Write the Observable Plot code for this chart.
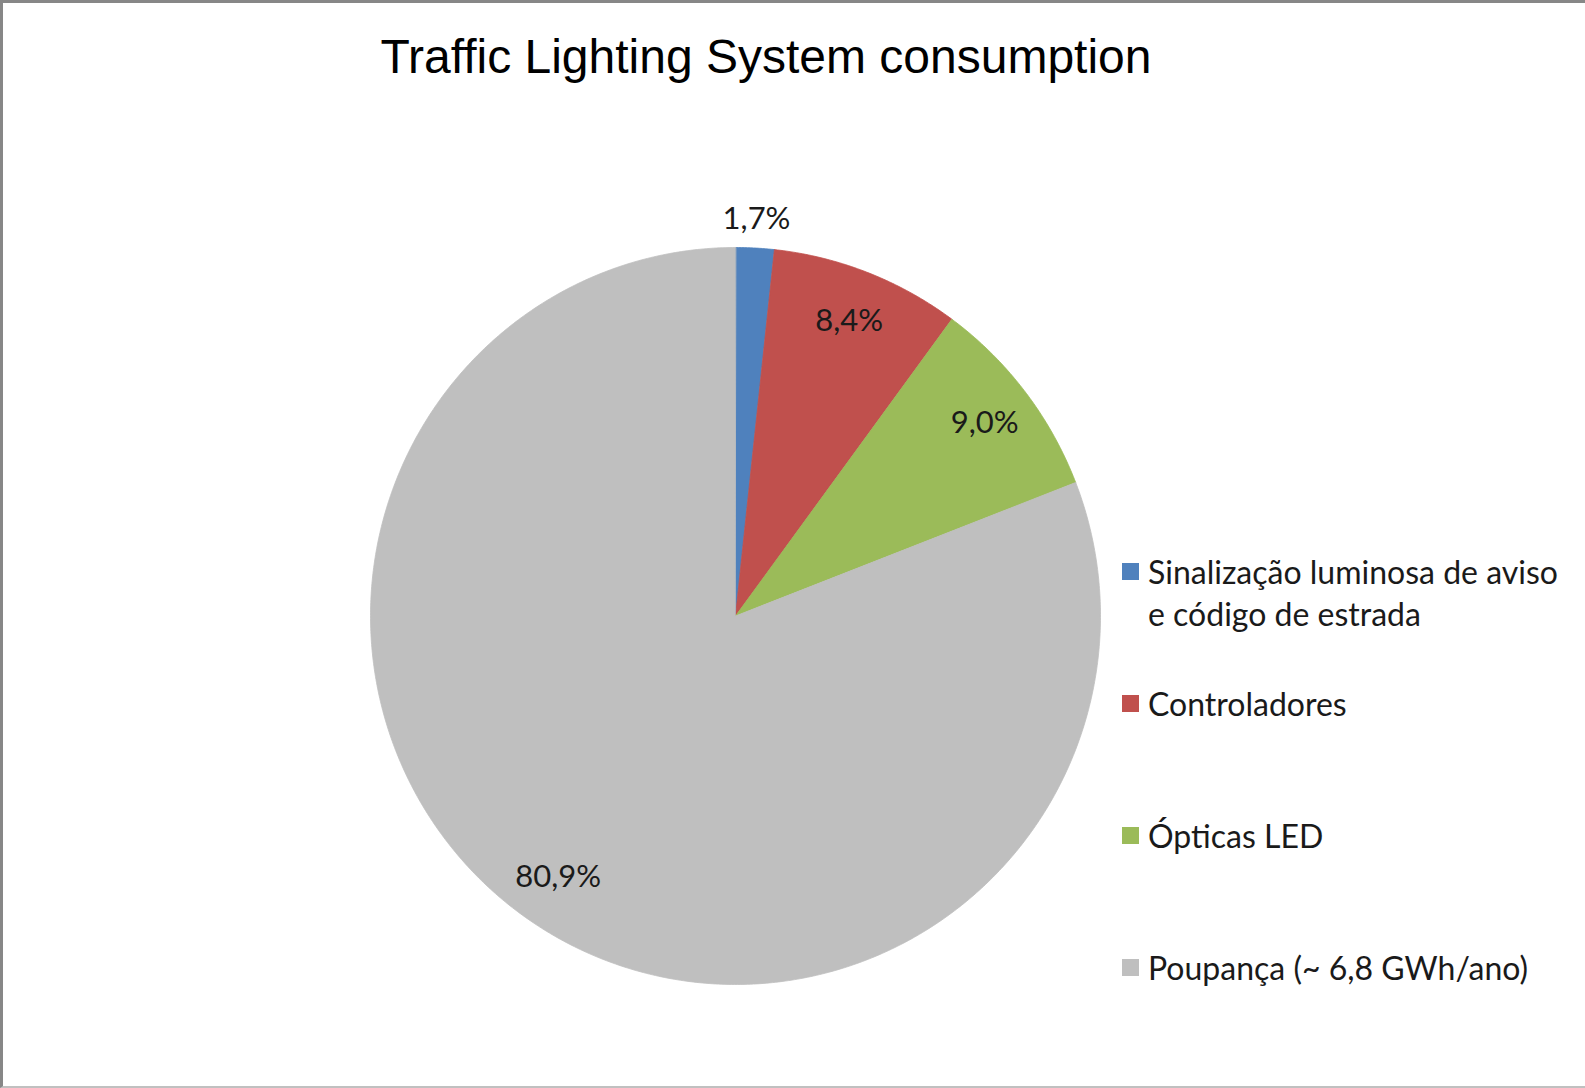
<!DOCTYPE html>
<html><head><meta charset="utf-8">
<script src="https://cdn.jsdelivr.net/npm/d3@7"></script>
<script src="https://cdn.jsdelivr.net/npm/@observablehq/plot@0.6"></script>
<style>
html,body{margin:0;padding:0;background:#fff;overflow:hidden}
#wrap{position:relative;width:1585px;height:1088px;background:#fff}
#frame{position:absolute;left:0;top:0;width:1585px;height:1088px;box-sizing:border-box;border-top:3px solid #878787;border-left:3px solid #878787;border-bottom:2px solid #c0c0c0;pointer-events:none}
#title{position:absolute;left:0;width:1532px;top:33px;text-align:center;font-family:"Liberation Sans",Arial,sans-serif;font-size:48px;line-height:47px;color:#000;white-space:nowrap}
#chart{position:absolute;left:0;top:0}
#legend{position:absolute;left:1122px;top:551px}
.lg-swatches{font-family:Lato,sans-serif;font-size:32px;color:#1a1a1a;margin:0}
.lg-swatch{height:132px;align-items:flex-start!important;display:flex;line-height:42px;padding:0!important}
.lg-swatch > svg{margin-right:9px!important;margin-top:12px}
.lg-swatch-label{white-space:normal!important;width:430px;overflow:visible!important}
</style>
</head><body>
<div id="wrap">
  <div id="chart"></div>
  <div id="title"></div>
  <div id="legend"></div>
  <div id="frame"></div>
</div>
<script>
const titleText = "Traffic Lighting System consumption";
const categories = [
  "Sinalização luminosa de aviso e código de estrada",
  "Controladores",
  "Ópticas LED",
  "Poupança (~ 6,8 GWh/ano)"
];
const shares = [1.7, 8.4, 9.0, 80.9];
const colors = ["#4F81BD", "#C0504D", "#9BBB59", "#BFBFBF"];

document.getElementById("title").textContent = titleText;

// Build slice polygons from the shares (clockwise from 12 o'clock)
const total = d3.sum(shares);
const slices = [];
const labels = [];
let acc = 0;
categories.forEach((cat, i) => {
  const a0 = acc / total * 2 * Math.PI;
  acc += shares[i];
  const a1 = acc / total * 2 * Math.PI;
  const n = Math.max(2, Math.ceil((a1 - a0) / (Math.PI / 360)));
  slices.push({cat, x: 0, y: 0});
  for (let k = 0; k <= n; k++) {
    const a = a0 + (a1 - a0) * k / n;
    slices.push({cat, x: Math.sin(a), y: Math.cos(a)});
  }
  const am = (a0 + a1) / 2;
  const r = shares[i] < 5 ? 1.08 : 0.86;
  labels.push({
    cat,
    x: r * Math.sin(am),
    y: r * Math.cos(am),
    text: d3.format(".1f")(shares[i]).replace(".", ",") + "%"
  });
});

const colorScale = {domain: categories, range: colors, type: "ordinal"};

const chart = Plot.plot({
  width: 1585,
  height: 1088,
  marginLeft: 370,
  marginRight: 485,
  marginTop: 247,
  marginBottom: 104,
  x: {domain: [-1, 1], axis: null},
  y: {domain: [-1, 1], axis: null},
  color: colorScale,
  style: {background: "transparent"},
  marks: [
    Plot.line(slices, {x: "x", y: "y", z: "cat", fill: "cat", stroke: "cat", strokeWidth: 0.8, curve: "linear-closed"}),
    Plot.text(labels, {x: "x", y: "y", text: "text", fontSize: 31, fontFamily: "Lato, sans-serif", fill: "#1a1a1a"})
  ]
});
document.getElementById("chart").appendChild(chart);

const legend = Plot.legend({
  color: colorScale,
  legend: "swatches",
  columns: 1,
  swatchSize: 17,
  className: "lg"
});
document.getElementById("legend").appendChild(legend);
</script>
</body></html>
